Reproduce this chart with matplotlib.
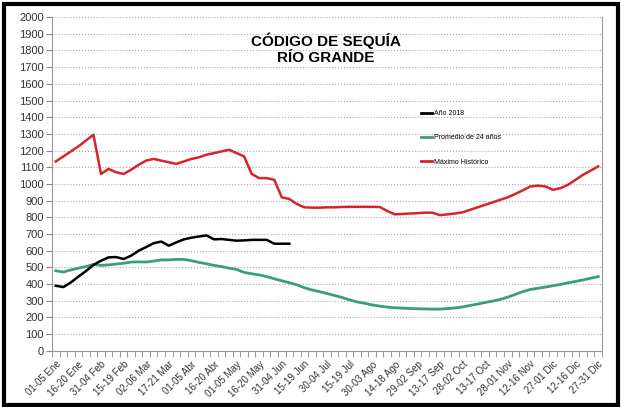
import matplotlib
matplotlib.use("Agg")
import matplotlib.pyplot as plt
from matplotlib.lines import Line2D
from matplotlib.patches import Rectangle
import numpy as np

plt.rcParams['font.family'] = ['Liberation Sans', 'DejaVu Sans']

# etiquetas del eje x (cada 3 pentadas)
tick_labels = ["01-05 Ene", "16-20 Ene", "31-04 Feb", "15-19 Feb", "02-06 Mar",
               "17-21 Mar", "01-05 Abr", "16-20 Abr", "01-05 May", "16-20 May",
               "31-04 Jun", "15-19 Jun", "30-04 Jul", "15-19 Jul", "30-03 Ago",
               "14-18 Ago", "29-02 Sep", "13-17 Sep", "28-02 Oct", "13-17 Oct",
               "28-01 Nov", "12-16 Nov", "27-01 Dic", "12-16 Dic", "27-31 Dic"]

# Año 2018 (pentadas 0..31)
anio_2018 = [390, 382, 410, 445, 478, 515, 540, 560, 562, 550,
             570, 600, 622, 645, 655, 630, 650, 668, 678, 685,
             692, 668, 670, 665, 660, 662, 665, 665, 665, 642,
             642, 642]

# Promedio de 24 años (73 pentadas)
promedio = [480, 472, 485, 495, 505, 518, 512, 515, 520, 525,
            532, 533, 532, 538, 545, 545, 548, 548, 540, 530,
            522, 512, 505, 495, 488, 470, 462, 455, 445, 432,
            420, 408, 396, 378, 365, 355, 343, 332, 320, 305,
            293, 285, 275, 268, 262, 258, 256, 254, 252, 251,
            250, 250, 253, 257, 263, 272, 280, 290, 298, 308,
            322, 338, 355, 368, 375, 382, 390, 398, 408, 416,
            425, 435, 445]

# Máximo histórico (73 pentadas)
maximo = [1135, 1165, 1195, 1225, 1260, 1295, 1060, 1090, 1070, 1060,
          1085, 1115, 1140, 1150, 1140, 1130, 1120, 1135, 1150, 1160,
          1175, 1185, 1195, 1205, 1185, 1165, 1060, 1035, 1035, 1025,
          920, 910, 880, 860, 858, 858, 860, 860, 862, 863,
          863, 863, 863, 862, 838, 818, 820, 823, 825, 828,
          828, 813, 818, 823, 830, 845, 860, 875, 890, 905,
          920, 940, 962, 985, 990, 985, 965, 975, 995, 1025,
          1055, 1080, 1105]

fig = plt.figure(figsize=(6.27, 4.07), dpi=100)
ax = fig.add_axes([0.083, 0.138, 0.877, 0.82])

ax.plot(range(len(maximo)), maximo, color='#d9232a', lw=1.8, label='Máximo Histórico')
ax.plot(range(len(promedio)), promedio, color='#3a9e78', lw=2.0, label='Promedio de 24 años')
ax.plot(range(len(anio_2018)), anio_2018, color='black', lw=1.8, label='Año 2018')

ax.set_xlim(-0.5, len(maximo) - 0.5)
ax.set_ylim(0, 2000)
ax.set_yticks(range(0, 2001, 100))
ax.tick_params(axis='y', labelsize=8, length=4, color='#888888', labelcolor='#333333', pad=2)

ax.set_xticks(range(0, len(maximo), 3))
ax.set_xticklabels(tick_labels, rotation=45, ha='right', rotation_mode='anchor', fontsize=7)
ax.set_xticks(np.arange(-0.5, len(maximo), 1), minor=True)
ax.tick_params(axis='x', which='major', length=0, pad=6, labelcolor='#333333')
ax.tick_params(axis='x', which='minor', length=4, color='#888888')

ax.grid(axis='y', linestyle=':', color='#aaaaaa', lw=0.8)
ax.set_axisbelow(True)
for side in ['left', 'bottom', 'right']:
    ax.spines[side].set_color('#999999')
ax.spines['top'].set_visible(False)

fig.text(0.52, 0.88, 'CÓDIGO DE SEQUÍA\nRÍO GRANDE', ha='center', va='center',
         fontsize=11, fontweight='bold', linespacing=1.25)

handles = [Line2D([], [], color='black', lw=2),
           Line2D([], [], color='#3a9e78', lw=2),
           Line2D([], [], color='#d9232a', lw=2)]
ax.legend(handles, ['Año 2018', 'Promedio de 24 años', 'Máximo Histórico'],
          loc='upper left', bbox_to_anchor=(0.66, 0.74), frameon=False,
          fontsize=5, handlelength=1.6, handletextpad=0.2, labelspacing=2.5)

fig.patches.append(Rectangle((0.006, 0.006), 0.98, 0.984, transform=fig.transFigure,
                             fill=False, edgecolor='black', lw=3))

fig.savefig('out.png', dpi=100)
